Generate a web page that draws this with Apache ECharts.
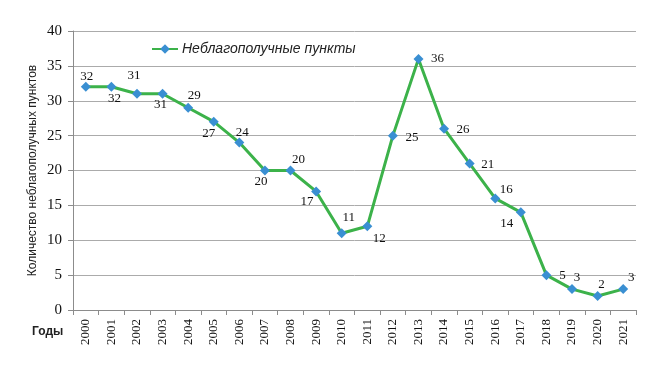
<!DOCTYPE html>
<html>
<head>
<meta charset="utf-8">
<script src="https://cdn.jsdelivr.net/npm/echarts@6/dist/echarts.min.js"></script>
<style>html,body{margin:0;padding:0;background:#fff;}#c{width:660px;height:374px;}</style>
</head>
<body>
<div id="c"></div>
<script>
const years = ['2000','2001','2002','2003','2004','2005','2006','2007','2008','2009','2010','2011','2012','2013','2014','2015','2016','2017','2018','2019','2020','2021'];
const values = [32,32,31,31,29,27,24,20,20,17,11,12,25,36,26,21,16,14,5,3,2,3];
const yTicks = [0,5,10,15,20,25,30,35,40];
const seriesName = 'Неблагополучные пункты';
const yAxisName = 'Количество неблагополучных пунктов';
const xAxisName = 'Годы';
// label placement (dx, dy) relative to each point
const labelOffsets = [[1,-10],[3,12],[-3,-18],[-2,11],[6,-12],[-5,12],[3,-10],[-4,11],[8,-11],[-9,10],[7,-16],[12,12],[19,2],[19,0],[19,1],[18,1],[11,-9],[-14,11],[16,0],[5,-11],[4,-11],[8,-11]];

const chart = echarts.init(document.getElementById('c'), null, {renderer:'canvas'});
const serif = '"Liberation Serif","DejaVu Serif",serif';
const sans = '"Liberation Sans",Arial,sans-serif';
chart.setOption({
  animation:false,
  backgroundColor:'#fff',
  grid:{left:73,right:24,top:31,bottom:64,containLabel:false},
  legend:{
    data:[seriesName],
    left:146, top:37,
    itemWidth:26, itemHeight:12, itemGap:4,
    textStyle:{fontFamily:sans,fontStyle:'italic',fontSize:14,color:'#222',padding:[0,0,0,-1]}
  },
  xAxis:{
    type:'category',
    data:years,
    boundaryGap:true,
    axisLine:{lineStyle:{color:'#8c8c8c',width:1}},
    axisTick:{show:true,length:5,interval:0,lineStyle:{color:'#8c8c8c'}},
    axisLabel:{rotate:90,interval:0,margin:9,fontFamily:serif,fontSize:13,color:'#111'},
    splitLine:{show:false}
  },
  yAxis:{
    type:'value',
    min:yTicks[0], max:yTicks[yTicks.length-1], interval:5,
    name:yAxisName, nameLocation:'middle', nameGap:34, nameMoveOverlap:false,
    nameTextStyle:{fontFamily:sans,fontSize:12,color:'#222'},
    axisLine:{show:true,lineStyle:{color:'#8c8c8c'}},
    axisTick:{show:true,length:5,lineStyle:{color:'#8c8c8c'}},
    axisLabel:{margin:11,fontFamily:serif,fontSize:15,color:'#111'},
    splitLine:{lineStyle:{color:'#ababab',width:1}}
  },
  graphic:[{type:'text',left:32,top:326,style:{text:xAxisName,font:'bold 12px '+sans,fill:'#222'}}],
  series:[{
    name:seriesName,
    type:'line',
    data:values.map((v,i)=>({value:v,label:{offset:labelOffsets[i]}})),
    symbol:'diamond',
    symbolSize:10,
    lineStyle:{color:'#3cb24a',width:3},
    itemStyle:{color:'#3a8fd2'},
    label:{show:true,position:'inside',fontFamily:serif,fontSize:13,color:'#111'}
  }]
});
</script>
</body>
</html>
